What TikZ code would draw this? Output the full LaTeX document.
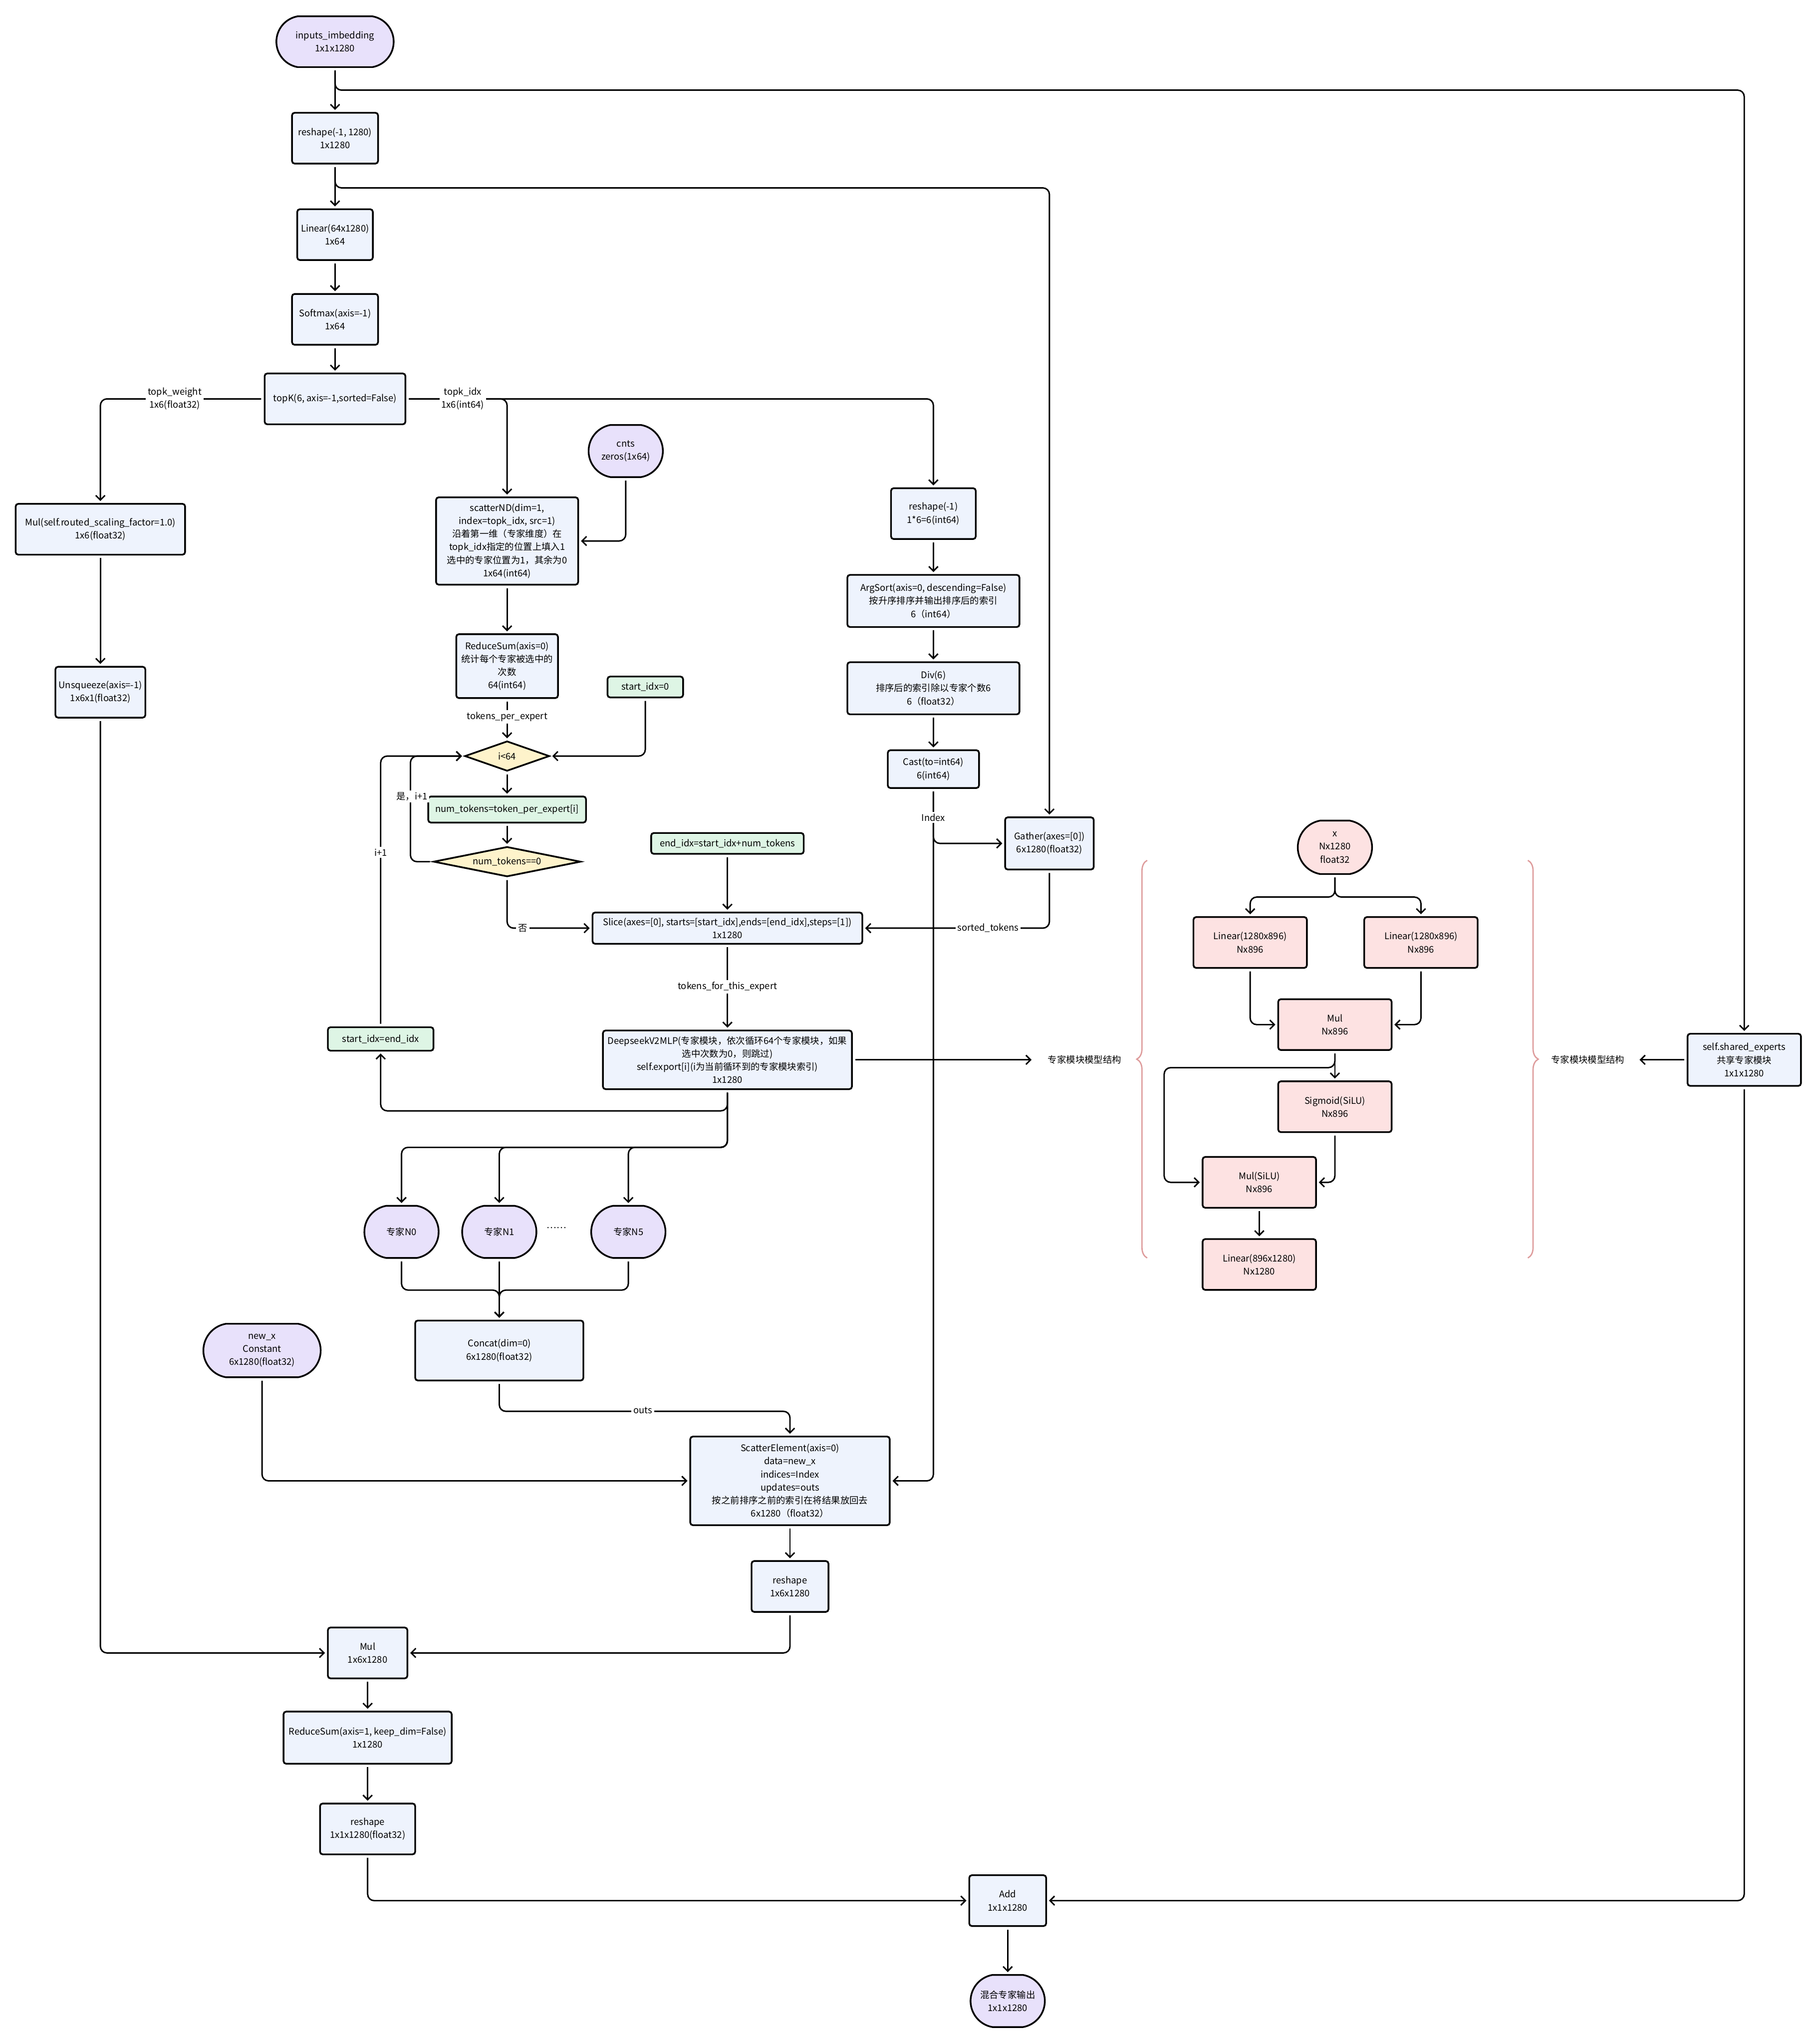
\documentclass[tikz,border=0pt]{standalone}
\usepackage{fontspec}
\setmainfont{Noto Sans CJK SC}
\usepackage{tikz}
\usetikzlibrary{arrows.meta, shapes.geometric, shapes.misc, decorations.pathreplacing}

\definecolor{opfill}{HTML}{EEF3FD}
\definecolor{iofill}{HTML}{E8E1FB}
\definecolor{varfill}{HTML}{DEF5E5}
\definecolor{condfill}{HTML}{FEF3CB}
\definecolor{mlpfill}{HTML}{FDE2E2}
\definecolor{bracecol}{HTML}{DE9C9C}

\begin{document}
\begin{tikzpicture}[x=0.035cm, y=-0.035cm, font=\fontsize{7}{10}\selectfont,
    wh/.style 2 args={minimum width=#1*0.035cm, minimum height=#2*0.035cm},
    op/.style={draw, line width=1.3pt, rounded corners=2pt, fill=opfill, align=center, inner sep=1pt},
    io/.style={draw, line width=1.3pt, rounded rectangle, rounded rectangle arc length=160, fill=iofill, align=center, inner sep=1pt},
    vbox/.style={op, fill=varfill},
    cond/.style={draw, diamond, line width=1.3pt, fill=condfill, inner sep=0pt, align=center},
    mlp/.style={op, fill=mlpfill},
    arr/.style={-{Straight Barb[length=3.5pt, width=7pt]}, line width=1.1pt, rounded corners=5pt, shorten <=2pt, shorten >=1.5pt},
    lbl/.style={fill=white, inner sep=1.5pt, align=center},
    bracestyle/.style={decorate, decoration={brace, amplitude=0.28cm}, draw=bracecol, line width=1pt}]
  \fill[white, use as bounding box] (0,0) rectangle (1395,1568);

  % main column
  \node[io, wh={92}{39}] (inp) at (257,32) {inputs\_imbedding\\1x1x1280};
  \node[op, wh={66}{39}] (rs) at (257,106) {reshape(-1, 1280)\\1x1280};
  \node[op, wh={58}{39}] (lin) at (257,180) {Linear(64x1280)\\1x64};
  \node[op, wh={66}{39}] (smx) at (257,245) {Softmax(axis=-1)\\1x64};
  \node[op, wh={108}{39}] (topk) at (257,306) {topK(6, axis=-1,sorted=False)};
  % weight branch
  \node[op, wh={130}{39}] (mulr) at (77,406) {Mul(self.routed\_scaling\_factor=1.0)\\1x6(float32)};
  \node[op, wh={69}{39}] (unsq) at (77,531) {Unsqueeze(axis=-1)\\1x6x1(float32)};
  % expert counting
  \node[io, wh={59}{40}] (cnts) at (480,346) {cnts\\zeros(1x64)};
  \node[op, wh={109}{67}] (scnd) at (389,415) {scatterND(dim=1,\\index=topk\_idx, src=1)\\沿着第一维（专家维度）在\\topk\_idx指定的位置上填入1\\选中的专家位置为1，其余为0\\1x64(int64)};
  \node[op, wh={78}{49}] (rsum) at (389,511) {ReduceSum(axis=0)\\统计每个专家被选中的\\次数\\64(int64)};
  % loop over experts
  \node[vbox, wh={58}{16}] (sidx0) at (495,527) {start\_idx=0};
  \node[cond, wh={65}{23}, aspect=2.8] (ilt) at (389,580) {i<64};
  \node[vbox, wh={121}{20}] (ntok) at (389,621) {num\_tokens=token\_per\_expert[i]};
  \node[cond, wh={113}{23}, aspect=4.9] (nz) at (389,661) {num\_tokens==0};
  \node[vbox, wh={117}{16}] (eidx) at (558,647) {end\_idx=start\_idx+num\_tokens};
  \node[op, wh={207}{24}] (slc) at (558,712) {Slice(axes=[0], starts=[start\_idx],ends=[end\_idx],steps=[1])\\1x1280};
  \node[op, wh={191}{45}] (mlp) at (558,813) {DeepseekV2MLP(专家模块，依次循环64个专家模块，如果\\选中次数为0，则跳过)\\self.export[i](i为当前循环到的专家模块索引)\\1x1280};
  \node[vbox, wh={81}{18}] (sidx1) at (292,797) {start\_idx=end\_idx};
  % sorting column
  \node[op, wh={65}{39}] (rsi) at (716,394) {reshape(-1)\\1*6=6(int64)};
  \node[op, wh={132}{40}] (asrt) at (716,461) {ArgSort(axis=0, descending=False)\\按升序排序并输出排序后的索引\\6（int64）};
  \node[op, wh={132}{40}] (dv) at (716,528) {Div(6)\\排序后的索引除以专家个数6\\6（float32）};
  \node[op, wh={70}{29}] (cst) at (716,590) {Cast(to=int64)\\6(int64)};
  \node[op, wh={68}{40}] (gth) at (805,647) {Gather(axes=[0])\\6x1280(float32)};
  % experts and merge
  \node[io, wh={59}{40}] (e0) at (308,945) {专家N0};
  \node[io, wh={59}{40}] (e1) at (383,945) {专家N1};
  \node (dots) at (427,942) {……};
  \node[io, wh={59}{40}] (e5) at (482,945) {专家N5};
  \node[io, wh={92}{41}] (newx) at (201,1036) {new\_x\\Constant\\6x1280(float32)};
  \node[op, wh={129}{46}] (cct) at (383,1036) {Concat(dim=0)\\6x1280(float32)};
  \node[op, wh={153}{68}] (sce) at (606,1136) {ScatterElement(axis=0)\\data=new\_x\\indices=Index\\updates=outs\\按之前排序之前的索引在将结果放回去\\6x1280（float32）};
  \node[op, wh={59}{39}] (rs6) at (606,1217) {reshape\\1x6x1280};
  \node[op, wh={61}{39}] (mulw) at (282,1268) {Mul\\1x6x1280};
  \node[op, wh={129}{40}] (rsum1) at (282,1333) {ReduceSum(axis=1, keep\_dim=False)\\1x1280};
  \node[op, wh={73}{39}] (rs1) at (282,1403) {reshape\\1x1x1280(float32)};
  \node[op, wh={59}{39}] (add) at (773,1458) {Add\\1x1x1280};
  \node[io, wh={59}{40}] (out) at (773,1535) {混合专家输出\\1x1x1280};
  \node[op, wh={87}{40}] (shx) at (1338,813) {self.shared\_experts\\共享专家模块\\1x1x1280};
  % expert module structure
  \node[io, fill=mlpfill, wh={59}{41}] (xin) at (1024,650) {x\\Nx1280\\float32};
  \node[mlp, wh={87}{39}] (lga) at (959,723) {Linear(1280x896)\\Nx896};
  \node[mlp, wh={87}{39}] (lup) at (1090,723) {Linear(1280x896)\\Nx896};
  \node[mlp, wh={87}{39}] (mm) at (1024,786) {Mul\\Nx896};
  \node[mlp, wh={87}{39}] (sgm) at (1024,849) {Sigmoid(SiLU)\\Nx896};
  \node[mlp, wh={87}{39}] (msl) at (966,907) {Mul(SiLU)\\Nx896};
  \node[mlp, wh={87}{39}] (ldn) at (966,970) {Linear(896x1280)\\Nx1280};
  \node (lm1) at (832,813) {专家模块模型结构};
  \node (lm2) at (1218,813) {专家模块模型结构};
  \draw[bracestyle] (880,965) -- (880,660);
  \draw[bracestyle] (1172,660) -- (1172,965);

  % connectors
  \draw[arr] (inp.south) -- (rs.north);
  \draw[arr] (inp.south) -- ++(0,17) -| (shx.north);
  \draw[arr] (rs.south) -- (lin.north);
  \draw[arr] (rs.south) -- ++(0,18) -| (gth.north);
  \draw[arr] (lin.south) -- (smx.north);
  \draw[arr] (smx.south) -- (topk.north);
  \draw[arr] (topk.west) -| (mulr.north);
  \draw[arr] (topk.east) -| (rsi.north);
  \draw[arr] (topk.east) -| (scnd.north);
  \draw[arr] (mulr.south) -- (unsq.north);
  \draw[arr] (unsq.south) |- (mulw.west);
  \draw[arr] (cnts.south) |- (scnd.east);
  \draw[arr] (scnd.south) -- (rsum.north);
  \draw[arr] (rsum.south) -- (ilt.north);
  \draw[arr] (sidx0.south) |- (ilt.east);
  \draw[arr] (ilt.south) -- (ntok.north);
  \draw[arr] (ntok.south) -- (nz.north);
  \draw[arr] (nz.west) -- ++(-17,0) |- (ilt.west);
  \draw[arr] (nz.south) |- (slc.west);
  \draw[arr] (eidx.south) -- (slc.north);
  \draw[arr] (gth.south) |- (slc.east);
  \draw[arr] (slc.south) -- (mlp.north);
  \draw[arr] (mlp.south) -- ++(0,16) -| (sidx1.south);
  \draw[arr] (sidx1.north) |- (ilt.west);
  \draw[arr, shorten >=9pt] (mlp.east) -- (lm1.west);
  \foreach \e in {e0,e1,e5} \draw[arr] (mlp.south) -- ++(0,44) -| (\e.north);
  \foreach \e in {e0,e5} \draw[arr] (\e.south) -- ++(0,24) -| (cct.north);
  \draw[arr] (e1.south) -- (cct.north);
  \draw[arr] (cct.south) -- ++(0,23) -| (sce.north);
  \draw[arr] (newx.south) |- (sce.west);
  \draw[arr] (rsi.south) -- (asrt.north);
  \draw[arr] (asrt.south) -- (dv.north);
  \draw[arr] (dv.south) -- (cst.north);
  \draw[arr] (cst.south) |- (gth.west);
  \draw[arr] (cst.south) |- (sce.east);
  \draw[arr] (sce.south) -- (rs6.north);
  \draw[arr] (rs6.south) |- (mulw.east);
  \draw[arr] (mulw.south) -- (rsum1.north);
  \draw[arr] (rsum1.south) -- (rs1.north);
  \draw[arr] (rs1.south) |- (add.west);
  \draw[arr] (shx.south) |- (add.east);
  \draw[arr] (add.south) -- (out.north);
  \draw[arr, shorten >=8pt] (shx.west) -- (lm2.east);
  % inside the expert module
  \draw[arr] (xin.south) -- ++(0,17) -| (lga.north);
  \draw[arr] (xin.south) -- ++(0,17) -| (lup.north);
  \draw[arr] (lga.south) |- (mm.west);
  \draw[arr] (lup.south) |- (mm.east);
  \draw[arr] (mm.south) -- (sgm.north);
  \coordinate (mmturn) at (893,819);
  \draw[arr] (mm.south) |- (mmturn) |- (msl.west);
  \draw[arr] (sgm.south) |- (msl.east);
  \draw[arr] (msl.south) -- (ldn.north);

  % edge labels
  \node[lbl] (ltw) at (134,306) {topk\_weight\\1x6(float32)};
  \node[lbl] (lti) at (355,306) {topk\_idx\\1x6(int64)};
  \node[lbl] (ltpe) at (389,550) {tokens\_per\_expert};
  \node[lbl] (lyes) at (316,611) {是，i+1};
  \node[lbl] (linc) at (292,654) {i+1};
  \node[lbl] (lno) at (401,712) {否};
  \node[lbl] (ltfe) at (558,757) {tokens\_for\_this\_expert};
  \node[lbl] (lidx) at (716,627) {Index};
  \node[lbl] (lsrt) at (758,712) {sorted\_tokens};
  \node[lbl] (louts) at (493,1082) {outs};
\end{tikzpicture}
\end{document}
